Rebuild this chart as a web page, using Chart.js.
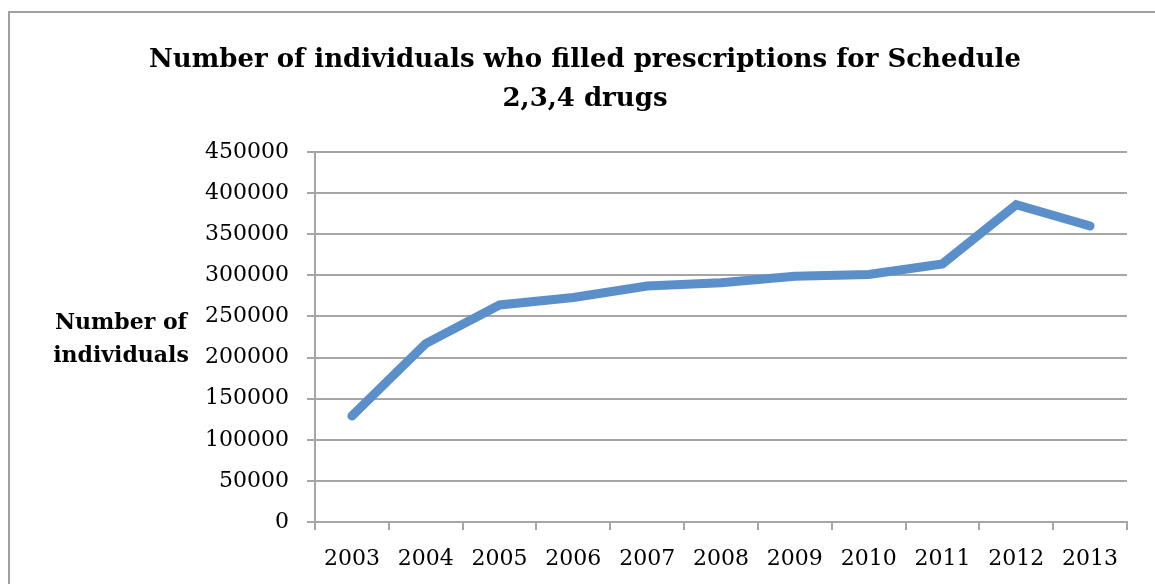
<!DOCTYPE html>
<html>
<head>
<meta charset="utf-8">
<script src="https://cdn.jsdelivr.net/npm/chart.js@4/dist/chart.umd.min.js"></script>
<style>
  html, body { margin: 0; padding: 0; background: #fff; }
  #wrap { width: 1155px; height: 584px; position: relative; }
</style>
</head>
<body>
<div id="wrap"><canvas id="c" width="1155" height="584"></canvas></div>
<script>
const years = ['2003','2004','2005','2006','2007','2008','2009','2010','2011','2012','2013'];
const individuals = [129000, 217000, 264000, 273000, 287000, 291000, 299000, 301000, 314000, 386000, 360000];
const titleLines = ['Number of individuals who filled prescriptions for Schedule', '2,3,4 drugs'];
const yTitleLines = ['Number of', 'individuals'];

const serif = "'DejaVu Serif', 'Liberation Serif', serif";
const gridCol = '#a6a6a6';

// frame round the chart + horizontal y-axis title
const decor = {
  id: 'decor',
  beforeDraw(chart){
    const ctx = chart.ctx;
    ctx.save();
    ctx.strokeStyle = '#a0a0a0';
    ctx.lineWidth = 2;
    ctx.strokeRect(9, 12, 1160, 600);
    ctx.restore();
  },
  afterDraw(chart){
    const ctx = chart.ctx;
    ctx.save();
    ctx.fillStyle = '#000';
    ctx.font = `bold 22px ${serif}`;
    ctx.textAlign = 'center';
    ctx.textBaseline = 'middle';
    ctx.fillText(yTitleLines[0], 121, 323);
    ctx.fillText(yTitleLines[1], 121, 356);
    ctx.restore();
  }
};

new Chart(document.getElementById('c'), {
  type: 'line',
  data: {
    labels: years,
    datasets: [{
      data: individuals,
      borderColor: 'rgb(91,143,201)',
      borderWidth: 9,
      borderCapStyle: 'round',
      borderJoinStyle: 'miter',
      pointRadius: 0,
      tension: 0,
      fill: false
    }]
  },
  options: {
    responsive: false,
    animation: false,
    layout: { padding: { left: 43, right: 28, top: 0, bottom: 0 } },
    plugins: {
      legend: { display: false },
      tooltip: { enabled: false },
      title: {
        display: true,
        text: titleLines,
        color: '#000',
        font: { family: serif, size: 26, weight: 'bold', lineHeight: 1.52 },
        padding: { top: 40, bottom: 33 }
      }
    },
    scales: {
      x: {
        offset: true,
        grid: { offset: true, drawOnChartArea: false, color: gridCol, lineWidth: 2, tickLength: 8 },
        border: { color: gridCol, width: 2 },
        ticks: { color: '#000', font: { family: serif, size: 22 }, padding: 16, maxRotation: 0, autoSkip: false },
        afterFit(s){ s.height = 62; }
      },
      y: {
        min: 0, max: 450000,
        grid: { color: gridCol, lineWidth: 2, tickLength: 8 },
        border: { color: gridCol, width: 2 },
        ticks: { stepSize: 50000, color: '#000', font: { family: serif, size: 22 }, padding: 18,
                 callback: v => String(v) },
        afterFit(s){ s.width = 272; }
      }
    }
  },
  plugins: [decor]
});
</script>
</body>
</html>
